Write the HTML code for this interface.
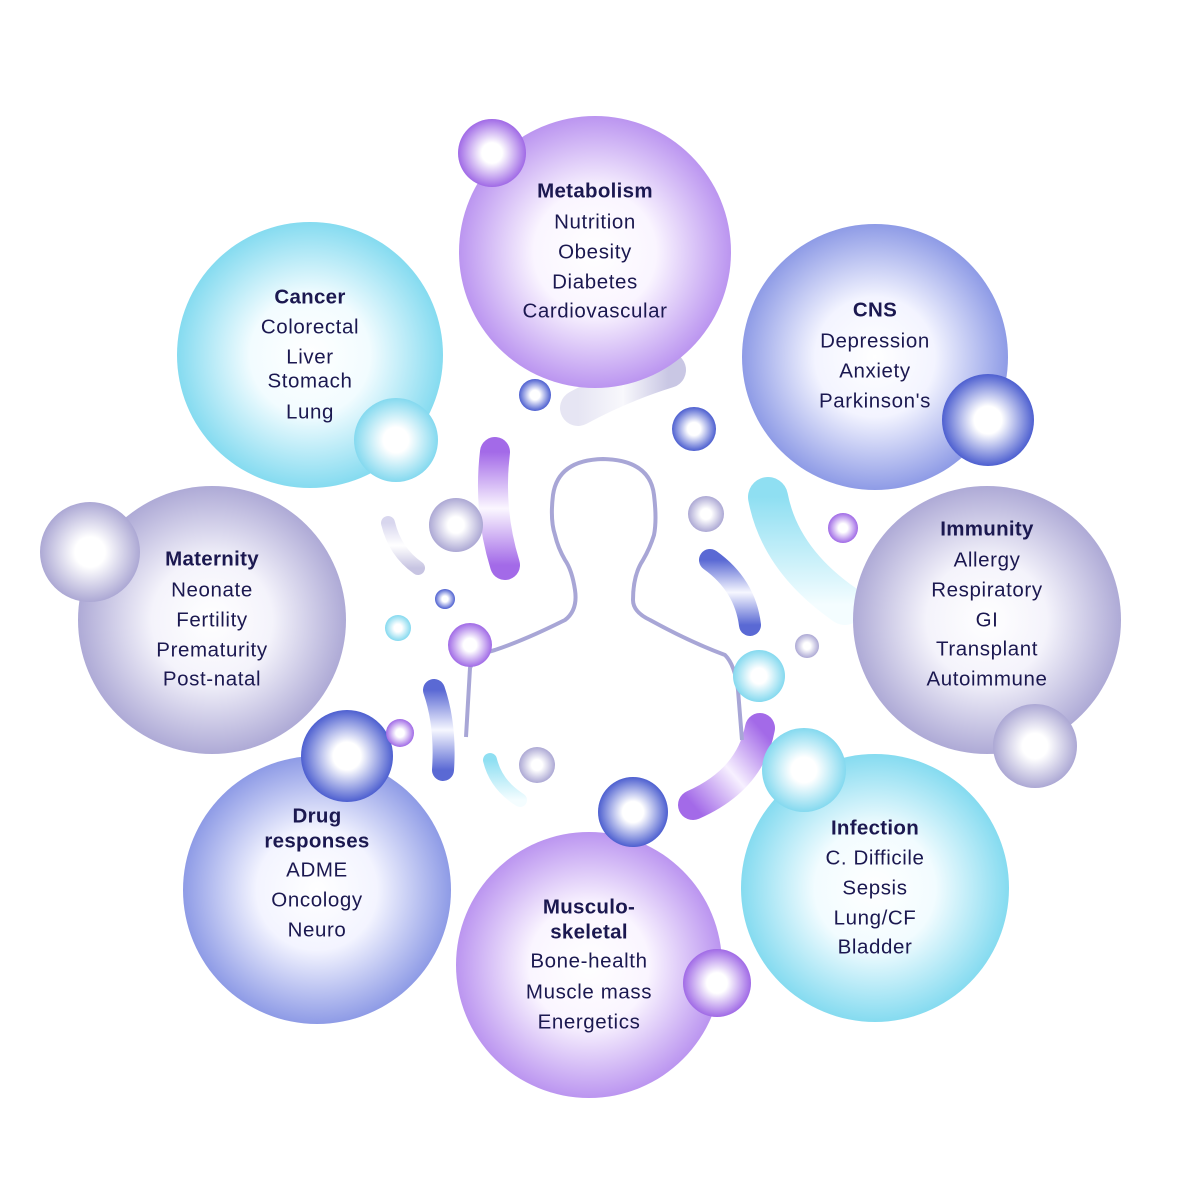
<!DOCTYPE html>
<html><head><meta charset="utf-8"><style>
html,body{margin:0;padding:0;background:#fff}
svg{display:block}
text{font-family:"Liberation Sans",sans-serif;font-size:20.5px;letter-spacing:0.6px;fill:#1b1850;text-anchor:middle;dominant-baseline:central}
.t{font-weight:bold;letter-spacing:0.3px}
</style></head><body>
<svg width="1200" height="1200" viewBox="0 0 1200 1200">
<defs>
<radialGradient id="bP" cx="50%" cy="50%" r="50%"><stop offset="0" stop-color="#fff"/><stop offset="0.45" stop-color="#faf5ff"/><stop offset="1" stop-color="#bb95f0"/></radialGradient>
<radialGradient id="bC" cx="50%" cy="50%" r="50%"><stop offset="0" stop-color="#fff"/><stop offset="0.45" stop-color="#f2fcff"/><stop offset="1" stop-color="#85dbf0"/></radialGradient>
<radialGradient id="bB" cx="50%" cy="50%" r="50%"><stop offset="0" stop-color="#fff"/><stop offset="0.45" stop-color="#f3f4ff"/><stop offset="1" stop-color="#8e9be6"/></radialGradient>
<radialGradient id="bG" cx="50%" cy="50%" r="50%"><stop offset="0" stop-color="#fff"/><stop offset="0.45" stop-color="#f4f3fb"/><stop offset="1" stop-color="#aeaad6"/></radialGradient>
<radialGradient id="sP" cx="50%" cy="50%" r="50%"><stop offset="0" stop-color="#fff"/><stop offset="0.3" stop-color="#fff"/><stop offset="1" stop-color="#a06ae6"/></radialGradient>
<radialGradient id="sC" cx="50%" cy="50%" r="50%"><stop offset="0" stop-color="#fff"/><stop offset="0.3" stop-color="#fff"/><stop offset="1" stop-color="#84d9ef"/></radialGradient>
<radialGradient id="sB" cx="50%" cy="50%" r="50%"><stop offset="0" stop-color="#fff"/><stop offset="0.3" stop-color="#fff"/><stop offset="1" stop-color="#4d5fd0"/></radialGradient>
<radialGradient id="sG" cx="50%" cy="50%" r="50%"><stop offset="0" stop-color="#fff"/><stop offset="0.3" stop-color="#fff"/><stop offset="1" stop-color="#aca8d4"/></radialGradient>
<linearGradient id="lP" x1="0" y1="0" x2="0" y2="1"><stop offset="0" stop-color="#a36ae8"/><stop offset="0.5" stop-color="#fbf7ff"/><stop offset="1" stop-color="#a36ae8"/></linearGradient>
<linearGradient id="lB" x1="0" y1="0" x2="0" y2="1"><stop offset="0" stop-color="#5a69d4"/><stop offset="0.5" stop-color="#f6f7ff"/><stop offset="1" stop-color="#5a69d4"/></linearGradient>
<linearGradient id="lC" x1="0" y1="0" x2="0" y2="1"><stop offset="0" stop-color="#8fdff2"/><stop offset="1" stop-color="#f4fdff"/></linearGradient>
<linearGradient id="lG" x1="0" y1="0" x2="1" y2="0"><stop offset="0" stop-color="#e6e5f3"/><stop offset="0.5" stop-color="#f8f8fc"/><stop offset="1" stop-color="#c9c7e4"/></linearGradient>
<linearGradient id="lG2" x1="0" y1="0" x2="0" y2="1"><stop offset="0" stop-color="#d8d6ee"/><stop offset="0.5" stop-color="#fff"/><stop offset="1" stop-color="#c7c4e2"/></linearGradient>
<linearGradient id="lPd" x1="1" y1="0" x2="0" y2="1"><stop offset="0" stop-color="#a36ae8"/><stop offset="0.5" stop-color="#f7f0ff"/><stop offset="1" stop-color="#a36ae8"/></linearGradient>
</defs>

<g fill="none" stroke-linecap="round">
<path d="M578 408 Q620 385 668 370" stroke="url(#lG)" stroke-width="36"/>
<path d="M495 452 Q488 510 505 565" stroke="url(#lP)" stroke-width="30"/>
<path d="M388 523 Q395 552 418 568" stroke="url(#lG2)" stroke-width="14"/>
<path d="M768 497 Q780 560 845 605" stroke="url(#lC)" stroke-width="40"/>
<path d="M710 560 Q745 585 750 625" stroke="url(#lB)" stroke-width="22"/>
<path d="M434 690 Q446 725 443 770" stroke="url(#lB)" stroke-width="22"/>
<path d="M490 760 Q496 785 520 800" stroke="url(#lC)" stroke-width="14"/>
<path d="M760 728 Q750 780 693 805" stroke="url(#lPd)" stroke-width="30"/>
</g>

<path d="M466 737 L470 668 Q475 655 495 650 Q525 640 565 620 Q578 610 575 590 Q572 570 565 560 Q558 548 555 535 Q550 520 553 495 Q558 460 603 459 Q650 460 654 495 Q657 520 654 535 Q650 548 643 560 Q633 575 633 600 Q633 612 650 620 Q690 642 725 655 Q735 665 738 690 L742 740" fill="none" stroke="#a8a6d6" stroke-width="4" stroke-linejoin="round"/>

<circle cx="595" cy="252" r="136" fill="url(#bP)"/>
<circle cx="310" cy="355" r="133" fill="url(#bC)"/>
<circle cx="875" cy="357" r="133" fill="url(#bB)"/>
<circle cx="212" cy="620" r="134" fill="url(#bG)"/>
<circle cx="987" cy="620" r="134" fill="url(#bG)"/>
<circle cx="317" cy="890" r="134" fill="url(#bB)"/>
<circle cx="875" cy="888" r="134" fill="url(#bC)"/>
<circle cx="589" cy="965" r="133" fill="url(#bP)"/>

<circle cx="492" cy="153" r="34" fill="url(#sP)"/>
<circle cx="396" cy="440" r="42" fill="url(#sC)"/>
<circle cx="988" cy="420" r="46" fill="url(#sB)"/>
<circle cx="90" cy="552" r="50" fill="url(#sG)"/>
<circle cx="1035" cy="746" r="42" fill="url(#sG)"/>
<circle cx="347" cy="756" r="46" fill="url(#sB)"/>
<circle cx="804" cy="770" r="42" fill="url(#sC)"/>
<circle cx="633" cy="812" r="35" fill="url(#sB)"/>
<circle cx="717" cy="983" r="34" fill="url(#sP)"/>
<circle cx="535" cy="395" r="16" fill="url(#sB)"/>
<circle cx="694" cy="429" r="22" fill="url(#sB)"/>
<circle cx="456" cy="525" r="27" fill="url(#sG)"/>
<circle cx="706" cy="514" r="18" fill="url(#sG)"/>
<circle cx="843" cy="528" r="15" fill="url(#sP)"/>
<circle cx="445" cy="599" r="10" fill="url(#sB)"/>
<circle cx="398" cy="628" r="13" fill="url(#sC)"/>
<circle cx="470" cy="645" r="22" fill="url(#sP)"/>
<circle cx="807" cy="646" r="12" fill="url(#sG)"/>
<circle cx="759" cy="676" r="26" fill="url(#sC)"/>
<circle cx="400" cy="733" r="14" fill="url(#sP)"/>
<circle cx="537" cy="765" r="18" fill="url(#sG)"/>

<text x="595" y="191" class="t">Metabolism</text>
<text x="595" y="222">Nutrition</text>
<text x="595" y="252">Obesity</text>
<text x="595" y="282">Diabetes</text>
<text x="595" y="311">Cardiovascular</text>

<text x="310" y="297" class="t">Cancer</text>
<text x="310" y="327">Colorectal</text>
<text x="310" y="357">Liver</text>
<text x="310" y="381">Stomach</text>
<text x="310" y="412">Lung</text>

<text x="875" y="310" class="t">CNS</text>
<text x="875" y="341">Depression</text>
<text x="875" y="371">Anxiety</text>
<text x="875" y="401">Parkinson's</text>

<text x="212" y="559" class="t">Maternity</text>
<text x="212" y="590">Neonate</text>
<text x="212" y="620">Fertility</text>
<text x="212" y="650">Prematurity</text>
<text x="212" y="679">Post-natal</text>

<text x="987" y="529" class="t">Immunity</text>
<text x="987" y="560">Allergy</text>
<text x="987" y="590">Respiratory</text>
<text x="987" y="620">GI</text>
<text x="987" y="649">Transplant</text>
<text x="987" y="679">Autoimmune</text>

<text x="317" y="816" class="t">Drug</text>
<text x="317" y="841" class="t">responses</text>
<text x="317" y="870">ADME</text>
<text x="317" y="900">Oncology</text>
<text x="317" y="930">Neuro</text>

<text x="875" y="828" class="t">Infection</text>
<text x="875" y="858">C. Difficile</text>
<text x="875" y="888">Sepsis</text>
<text x="875" y="918">Lung/CF</text>
<text x="875" y="947">Bladder</text>

<text x="589" y="907" class="t">Musculo-</text>
<text x="589" y="932" class="t">skeletal</text>
<text x="589" y="961">Bone-health</text>
<text x="589" y="992">Muscle mass</text>
<text x="589" y="1022">Energetics</text>
</svg>
</body></html>
